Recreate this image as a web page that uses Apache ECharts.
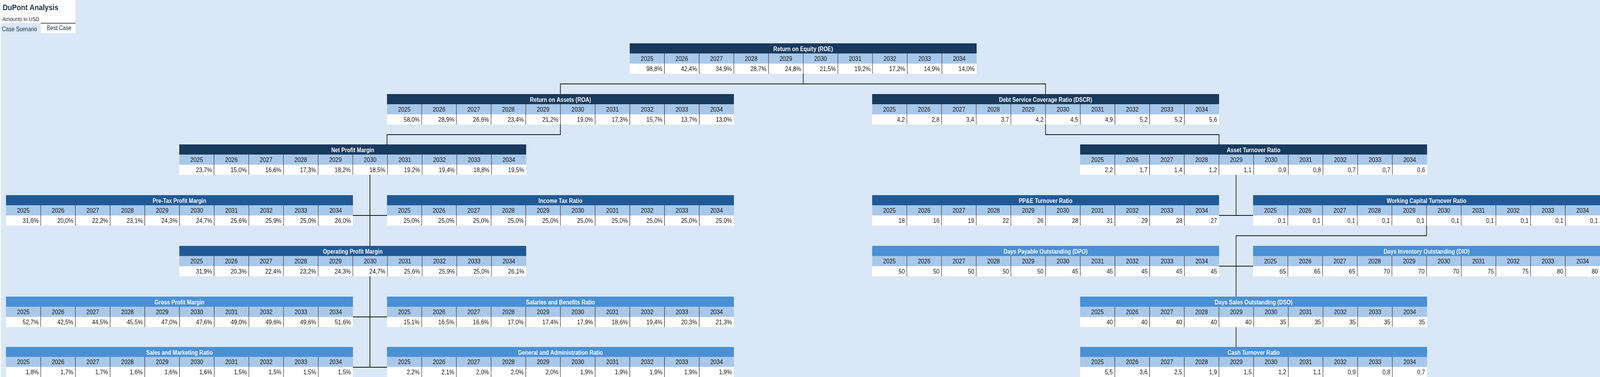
<!DOCTYPE html>
<html>
<head>
<meta charset="utf-8">
<title>DuPont Analysis</title>
<script src="https://cdn.jsdelivr.net/npm/echarts@6/dist/echarts.min.js"></script>
<style>
  html, body { margin: 0; padding: 0; background: #dae7f6; overflow: hidden; }
  #main { width: 4792px; height: 966px; transform-origin: 0 0; }
</style>
</head>
<body>
<div id="main"></div>
<script>
// ---- data ----
var years = ['2025', '2026', '2027', '2028', '2029', '2030', '2031', '2032', '2033', '2034'];

var roe          = [98.8, 42.4, 34.9, 28.7, 24.8, 21.5, 19.2, 17.2, 14.9, 14.0];
var roa          = [58.0, 28.9, 26.6, 23.4, 21.2, 19.0, 17.3, 15.7, 13.7, 13.0];
var dscr         = [4.2, 2.8, 3.4, 3.7, 4.2, 4.5, 4.9, 5.2, 5.2, 5.6];
var netMargin    = [23.7, 15.0, 16.6, 17.3, 18.2, 18.5, 19.2, 19.4, 18.8, 19.5];
var assetTurn    = [2.2, 1.7, 1.4, 1.2, 1.1, 0.9, 0.8, 0.7, 0.7, 0.6];
var preTaxMargin = [31.6, 20.0, 22.2, 23.1, 24.3, 24.7, 25.6, 25.9, 25.0, 26.0];
var incomeTax    = [25.0, 25.0, 25.0, 25.0, 25.0, 25.0, 25.0, 25.0, 25.0, 25.0];
var ppeTurn      = [18, 16, 19, 22, 26, 28, 31, 29, 28, 27];
var wcTurn       = [0.1, 0.1, 0.1, 0.1, 0.1, 0.1, 0.1, 0.1, 0.1, 0.1];
var opMargin     = [31.9, 20.3, 22.4, 23.2, 24.3, 24.7, 25.6, 25.9, 25.0, 26.1];
var dpo          = [50, 50, 50, 50, 50, 45, 45, 45, 45, 45];
var dio          = [65, 65, 65, 70, 70, 70, 75, 75, 80, 80];
var grossMargin  = [52.7, 42.5, 44.5, 45.5, 47.0, 47.6, 49.0, 49.6, 49.6, 51.6];
var salaries     = [15.1, 16.5, 16.6, 17.0, 17.4, 17.9, 18.6, 19.4, 20.3, 21.3];
var dso          = [40, 40, 40, 40, 40, 35, 35, 35, 35, 35];
var salesMkt     = [1.8, 1.7, 1.7, 1.6, 1.6, 1.6, 1.5, 1.5, 1.5, 1.5];
var genAdmin     = [2.2, 2.1, 2.0, 2.0, 2.0, 1.9, 1.9, 1.9, 1.9, 1.9];
var cashTurn     = [5.5, 3.6, 2.5, 1.9, 1.5, 1.2, 1.1, 0.9, 0.8, 0.7];

// ---- layout ----
var PAGE_W = 4792, PAGE_H = 966;
var colX = { A: 18, B: 537, C: 1159, D: 1886, E: 2612, F: 3235, G: 3753 };
var TABLE_W = 1039, ROW_H = 26, LEVEL_Y0 = 111, LEVEL_DY = 129.7;
var headColors = ['#183a5d', '#205a96', '#4a90d5'];
var yearFill = '#a8c8ea';
var FONT = '"Liberation Sans", Arial, sans-serif';

var tables = [
  { id: 'roe',   title: 'Return on Equity (ROE)',              values: roe,          fmt: 'pct', col: 'D', level: 0, tone: 0 },
  { id: 'roa',   title: 'Return on Assets (ROA)',              values: roa,          fmt: 'pct', col: 'C', level: 1, tone: 0 },
  { id: 'dscr',  title: 'Debt Service Coverage Ratio (DSCR)',  values: dscr,         fmt: 'dec', col: 'E', level: 1, tone: 0 },
  { id: 'npm',   title: 'Net Profit Margin',                   values: netMargin,    fmt: 'pct', col: 'B', level: 2, tone: 0 },
  { id: 'at',    title: 'Asset Turnover Ratio',                values: assetTurn,    fmt: 'dec', col: 'F', level: 2, tone: 0 },
  { id: 'ptm',   title: 'Pre-Tax Profit Margin',               values: preTaxMargin, fmt: 'pct', col: 'A', level: 3, tone: 1 },
  { id: 'itr',   title: 'Income Tax Ratio',                    values: incomeTax,    fmt: 'pct', col: 'C', level: 3, tone: 1 },
  { id: 'ppe',   title: 'PP&E Turnover Ratio',                 values: ppeTurn,      fmt: 'int', col: 'E', level: 3, tone: 1 },
  { id: 'wc',    title: 'Working Capital Turnover Ratio',      values: wcTurn,       fmt: 'dec', col: 'G', level: 3, tone: 1 },
  { id: 'opm',   title: 'Operating Profit Margin',             values: opMargin,     fmt: 'pct', col: 'B', level: 4, tone: 1 },
  { id: 'dpo',   title: 'Days Payable Outstanding (DPO)',      values: dpo,          fmt: 'int', col: 'E', level: 4, tone: 2 },
  { id: 'dio',   title: 'Days Inventory Outstanding (DIO)',    values: dio,          fmt: 'int', col: 'G', level: 4, tone: 2 },
  { id: 'gpm',   title: 'Gross Profit Margin',                 values: grossMargin,  fmt: 'pct', col: 'A', level: 5, tone: 2 },
  { id: 'sal',   title: 'Salaries and Benefits Ratio',         values: salaries,     fmt: 'pct', col: 'C', level: 5, tone: 2 },
  { id: 'dso',   title: 'Days Sales Outstanding (DSO)',        values: dso,          fmt: 'int', col: 'F', level: 5, tone: 2 },
  { id: 'sm',    title: 'Sales and Marketing Ratio',           values: salesMkt,     fmt: 'pct', col: 'A', level: 6, tone: 2 },
  { id: 'ga',    title: 'General and Administration Ratio',    values: genAdmin,     fmt: 'pct', col: 'C', level: 6, tone: 2 },
  { id: 'cash',  title: 'Cash Turnover Ratio',                 values: cashTurn,     fmt: 'dec', col: 'F', level: 6, tone: 2 }
];

function fmtVal(v, f) {
  if (f === 'int') return String(v);
  var s = v.toFixed(1).replace('.', ',');
  return f === 'pct' ? s + '%' : s;
}

// the browser window may be narrower than the sheet: squeeze the page to fit
var mainEl = document.getElementById('main');
var sx = Math.min(1, window.innerWidth / PAGE_W);
if (sx < 1) mainEl.style.transform = 'scale(' + sx + ', 1)';

// box geometry of each table (from layout only)
var box = {};
tables.forEach(function (t) {
  var x = colX[t.col], y = Math.round(LEVEL_Y0 + t.level * LEVEL_DY);
  box[t.id] = { x: x, y: y, right: x + TABLE_W, cx: x + TABLE_W / 2,
                bottom: y + 3 * ROW_H, valTop: y + 2 * ROW_H };
});

function makeRender(items, tone) {
  return function (params, api) {
    var it = items[params.dataIndex];
    var cs = params.coordSys;
    var p = api.coord([it.c, it.r]);
    var s = api.size([1, 1]);
    var y0 = p[1] - s[1] / 2;
    if (it.r === 0) {
      return { type: 'group', children: [
        { type: 'rect', shape: { x: cs.x, y: y0, width: cs.width, height: s[1] },
          style: { fill: headColors[tone] } },
        { type: 'text', style: { text: it.text, x: cs.x + cs.width / 2, y: p[1] + 3,
          align: 'center', verticalAlign: 'middle', textAlign: 'center', textVerticalAlign: 'middle',
          fill: '#ffffff', font: 'bold 16px ' + FONT } }
      ] };
    }
    var x0 = p[0] - s[0] / 2;
    var kids = [
      { type: 'rect', shape: { x: x0, y: y0, width: s[0], height: s[1] },
        style: { fill: it.r === 1 ? yearFill : '#ffffff' } }
    ];
    if (it.c > 0) {
      kids.push({ type: 'line', shape: { x1: x0, y1: y0, x2: x0, y2: y0 + s[1] },
        style: { stroke: '#3a3a3a', lineWidth: 1.5 } });
    }
    var isYear = it.r === 1;
    kids.push({ type: 'text', style: { text: it.text,
      x: isYear ? p[0] : x0 + s[0] - 6, y: p[1] + 1,
      align: isYear ? 'center' : 'right', textAlign: isYear ? 'center' : 'right',
      verticalAlign: 'middle', textVerticalAlign: 'middle',
      fill: '#141414', font: '17px ' + FONT } });
    return { type: 'group', children: kids };
  };
}

var grids = [], xAxes = [], yAxes = [], series = [];
tables.forEach(function (t, i) {
  var b = box[t.id];
  grids.push({ left: b.x, top: b.y, width: TABLE_W, height: 3 * ROW_H });
  xAxes.push({ type: 'category', gridIndex: i, data: years, show: false });
  yAxes.push({ type: 'category', gridIndex: i, data: ['title', 'year', 'value'], inverse: true, show: false });
  var items = [{ c: 0, r: 0, text: t.title }];
  years.forEach(function (yr, k) {
    items.push({ c: k, r: 1, text: yr });
    items.push({ c: k, r: 2, text: fmtVal(t.values[k], t.fmt) });
  });
  series.push({
    type: 'custom', name: t.title, xAxisIndex: i, yAxisIndex: i,
    data: items.map(function (it) { return [it.c, it.r]; }),
    renderItem: makeRender(items, t.tone),
    silent: true
  });
});

// connector lines, derived from the table boxes
var B = box, gapL = (B.ptm.right + B.itr.x) / 2, gapR = (B.ppe.right + B.wc.x) / 2;
var topBar = B.roe.bottom + ROW_H;
var links = [
  [[B.roe.cx, B.roe.bottom], [B.roe.cx, topBar]],
  [[B.roa.cx, B.roa.y], [B.roa.cx, topBar], [B.dscr.cx, topBar], [B.dscr.cx, B.dscr.y]],
  [[B.roa.cx, B.roa.bottom], [B.roa.cx, B.roa.bottom + ROW_H], [B.roa.x, B.roa.bottom + ROW_H], [B.roa.x, B.npm.y]],
  [[B.dscr.cx, B.dscr.bottom], [B.dscr.cx, B.dscr.bottom + ROW_H], [B.dscr.right, B.dscr.bottom + ROW_H], [B.dscr.right, B.at.y]],
  [[gapL, B.npm.bottom], [gapL, B.opm.y]],
  [[B.ptm.right, B.ptm.valTop], [B.itr.x, B.itr.valTop]],
  [[gapL, B.opm.bottom], [gapL, B.sm.valTop]],
  [[B.gpm.right, B.gpm.valTop], [B.sal.x, B.sal.valTop]],
  [[B.sm.right, B.sm.valTop], [B.ga.x, B.ga.valTop]],
  [[gapR, B.at.bottom], [gapR, B.ppe.valTop]],
  [[B.ppe.right, B.ppe.valTop], [B.wc.x, B.wc.valTop]],
  [[B.wc.cx, B.wc.bottom], [B.wc.cx, B.wc.bottom + ROW_H], [gapR, B.wc.bottom + ROW_H], [gapR, B.dso.y]],
  [[B.dpo.right, B.dpo.valTop], [B.dio.x, B.dio.valTop]],
  [[gapR, B.dso.bottom], [gapR, B.cash.y]]
];

var graphics = [
  // header block top-left
  { type: 'rect', shape: { x: 0, y: 0, width: 3, height: PAGE_H }, style: { fill: '#f7fafd' } },
  { type: 'rect', shape: { x: 0, y: 0, width: 226, height: 59 }, style: { fill: '#ffffff' } },
  { type: 'rect', shape: { x: 122, y: 59, width: 104, height: 26 }, style: { fill: '#ffffff' } },
  { type: 'line', shape: { x1: 122, y1: 59.5, x2: 226, y2: 59.5 }, style: { stroke: '#4a4a4a', lineWidth: 2 } },
  { type: 'text', style: { text: 'DuPont Analysis', x: 8, y: 20, verticalAlign: 'middle', textVerticalAlign: 'middle',
      fill: '#1b2f40', font: 'bold 21px ' + FONT } },
  { type: 'text', style: { text: 'Amounts in USD', x: 7, y: 50, verticalAlign: 'middle', textVerticalAlign: 'middle',
      fill: '#1f2a33', font: '15px ' + FONT } },
  { type: 'text', style: { text: 'Case Scenario', x: 6, y: 76, verticalAlign: 'middle', textVerticalAlign: 'middle',
      fill: '#1d3a4c', font: '16px ' + FONT } },
  { type: 'text', style: { text: 'Best Case', x: 177, y: 73, align: 'center', textAlign: 'center',
      verticalAlign: 'middle', textVerticalAlign: 'middle', fill: '#1f2a33', font: '16px ' + FONT } }
];
links.forEach(function (pts) {
  graphics.push({ type: 'polyline', z: 10, shape: { points: pts },
    style: { stroke: '#141414', lineWidth: 2, fill: null } });
});

var chart = echarts.init(mainEl, null, { width: PAGE_W, height: PAGE_H });
chart.setOption({
  backgroundColor: '#dae7f6',
  animation: false,
  grid: grids,
  xAxis: xAxes,
  yAxis: yAxes,
  series: series,
  graphic: { elements: graphics }
});
</script>
</body>
</html>
